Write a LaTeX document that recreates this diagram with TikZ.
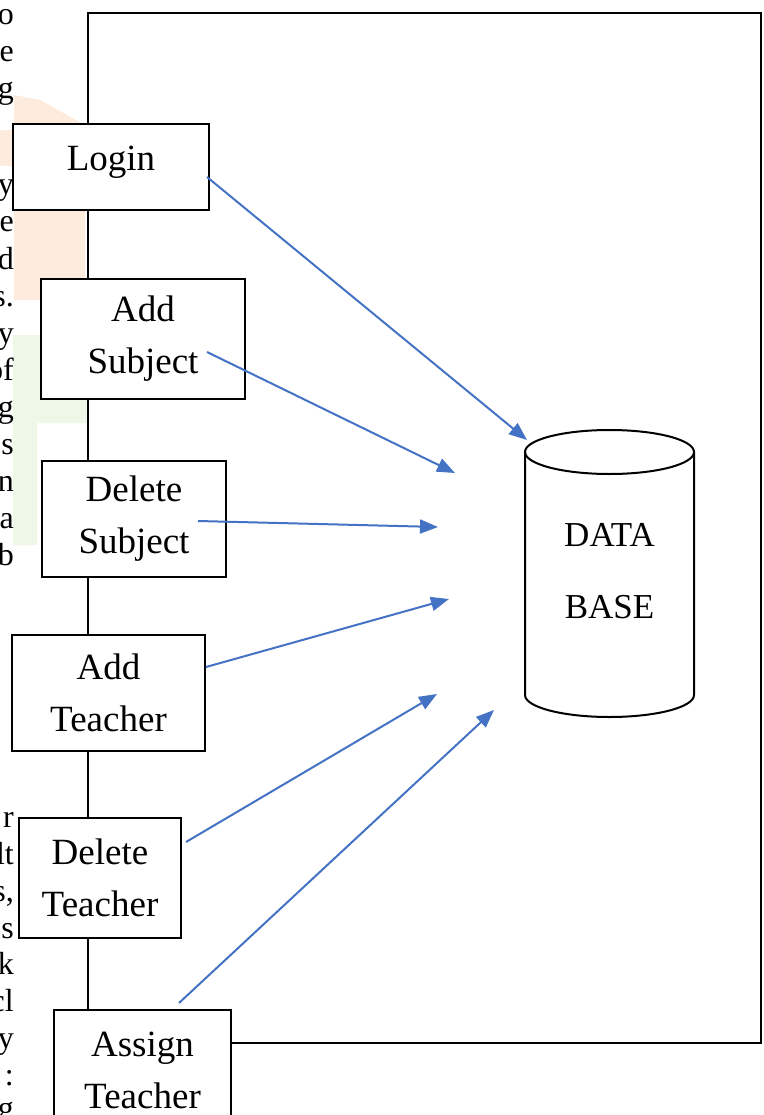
\documentclass[tikz,border=0pt]{standalone}
\usepackage{fontspec}
\setmainfont{Liberation Serif}
\usetikzlibrary{arrows.meta}
\definecolor{arrowblue}{HTML}{4472C4}
\definecolor{peach}{HTML}{FDEBDD}
\definecolor{mint}{HTML}{EFF7E9}
\begin{document}
\begin{tikzpicture}[x=1pt,y=-1pt,
  box/.style={draw, fill=white, line width=2pt, inner sep=0pt, align=center,
    font=\fontsize{37}{52}\selectfont},
  stray/.style={anchor=base east, inner sep=0pt, font=\fontsize{32}{37}\selectfont},
  flow/.style={draw=arrowblue, line width=2pt, -{Triangle[length=18pt,width=14pt]}}]
\useasboundingbox (0,0) rectangle (763,1115);
% faint watermark
\fill[peach] (14,95) -- (40,100) -- (85,125) -- (85,300) -- (14,300) -- cycle;
\fill[peach] (0,130) rectangle (14,166);
\fill[mint] (13,335) -- (87,335) -- (87,423) -- (37,423) -- (37,545) -- (13,545) -- cycle;
% stray letters of the cut-off page text
\foreach \t/\y [count=\i] in {o/25, e/62, g/99, y/195, e/232, d/269, s./306, y/343, of/380,
  g/417, s/454, n/491, a/528, b/565, r/827, lt/864, {s,}/901, s/938, k/974, cl/1011,
  y/1048, :/1085, g/1118}
  \node[stray] (s\i) at (14,\y) {\t};
% frame
\node[draw, line width=2pt, inner sep=0pt, anchor=north west, minimum width=673pt,
  minimum height=1030pt] (frame) at (87,12) {};
% boxes
\node[box, minimum width=196pt, minimum height=86pt, text depth=18pt] (login) at (111,167) {Login};
\node[box, minimum width=204pt, minimum height=120pt] (addsub) at (143,339) {Add\\Subject};
\node[box, minimum width=184pt, minimum height=116pt] (delsub) at (134,519) {Delete\\Subject};
\node[box, minimum width=193pt, minimum height=116pt] (addt) at (108.5,693) {Add\\Teacher};
\node[box, minimum width=162pt, minimum height=120pt] (delt) at (100,878) {Delete\\Teacher};
\node[box, minimum width=177pt, minimum height=120pt] (assign) at (142.5,1070) {Assign\\Teacher};
% database cylinder
\draw[line width=2pt] (525,452) -- (525,695) arc[start angle=180, end angle=0, x radius=84.5, y radius=22] -- (694,452);
\draw[line width=2pt] (609.5,452) ellipse [x radius=84.5, y radius=22];
\node[align=center, inner sep=0pt, font=\fontsize{35}{72}\selectfont] (db) at (609.5,571) {DATA\\BASE};
% arrow end points
\coordinate (e1) at (527,440);
\coordinate (e2) at (455,473);
\coordinate (e3) at (438,527);
\coordinate (e4) at (449,599);
\coordinate (e5) at (437,694);
\coordinate (e6) at (494,710);
\draw[flow] ([xshift=-3pt,yshift=-10pt]login.east) -- (e1);
\draw[flow] ([xshift=-39pt,yshift=-13pt]addsub.east) -- (e2);
\draw[flow] ([xshift=-29pt,yshift=-2pt]delsub.east) -- (e3);
\draw[flow] ([yshift=26pt]addt.east) -- (e4);
\draw[flow] ([xshift=4pt,yshift=-25pt]delt.north east) -- (e5);
\draw[flow] ([xshift=36.5pt,yshift=6pt]assign.north) -- (e6);
\end{tikzpicture}
\end{document}
